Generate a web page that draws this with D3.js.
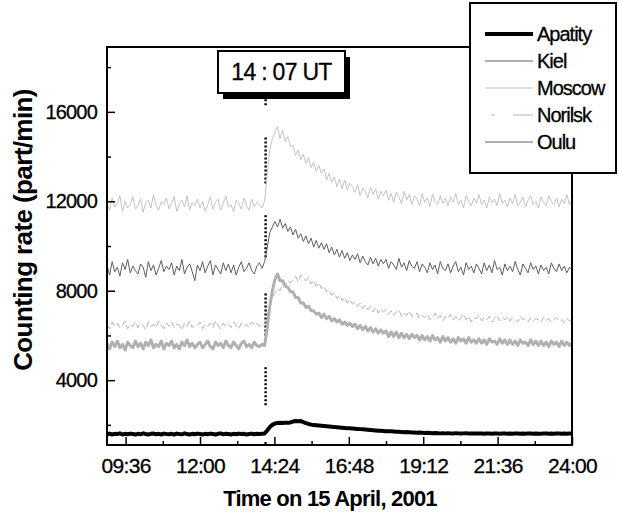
<!DOCTYPE html>
<html>
<head>
<meta charset="utf-8">
<script src="https://cdn.jsdelivr.net/npm/d3@7/dist/d3.min.js"></script>
<style>
  body { margin: 0; background: #fff; }
  svg { display: block; font-family: "Liberation Sans", Arial, sans-serif; }
</style>
</head>
<body>
<div id="chart"></div>
<script>
// neutron monitor counts, one value every 5 min from 09:00 to 24:00 (one row per hour)
const startHour = 9;
const stepMinutes = 5;

const apatity = [
  1580, 1610, 1570, 1600, 1590, 1620, 1570, 1600, 1580, 1610, 1590, 1570,
  1600, 1580, 1620, 1590, 1570, 1600, 1610, 1580, 1600, 1570, 1610, 1590,
  1580, 1600, 1570, 1610, 1590, 1580, 1620, 1590, 1570, 1600, 1580, 1610,
  1590, 1570, 1600, 1580, 1610, 1590, 1570, 1600, 1620, 1580, 1600, 1590,
  1570, 1600, 1580, 1610, 1590, 1600, 1570, 1590, 1610, 1580, 1600, 1590,
  1600, 1610, 1750, 1900, 2000, 2060, 2080, 2090, 2080, 2100, 2090, 2110,
  2150, 2170, 2160, 2170, 2120, 2080, 2040, 2010, 1990, 1980, 1970, 1960,
  1950, 1940, 1930, 1920, 1900, 1890, 1880, 1870, 1860, 1850, 1850, 1840,
  1830, 1820, 1810, 1800, 1790, 1780, 1770, 1760, 1750, 1740, 1740, 1730,
  1720, 1710, 1710, 1700, 1690, 1690, 1680, 1670, 1680, 1670, 1660, 1660,
  1650, 1660, 1650, 1640, 1650, 1640, 1630, 1640, 1630, 1620, 1630, 1620,
  1630, 1620, 1610, 1630, 1620, 1610, 1620, 1630, 1610, 1620, 1610, 1620,
  1610, 1620, 1600, 1620, 1610, 1600, 1620, 1610, 1600, 1610, 1620, 1600,
  1610, 1600, 1620, 1610, 1600, 1610, 1600, 1620, 1610, 1600, 1610, 1600,
  1600, 1610, 1620, 1600, 1610, 1600, 1620, 1610, 1600, 1610, 1600, 1610,
  1610
];

const kiel = [
  9150, 8700, 9300, 8850, 9050, 8650, 9250, 8950, 9400, 8800, 9100, 8900,
  8750, 9200, 9050, 8600, 9300, 8900, 9150, 8700, 9000, 9350, 8850, 9100,
  8950, 9250, 8700, 9100, 8900, 9400, 8750, 9050, 9200, 8850, 8450, 9150,
  8900, 9300, 8800, 9100, 9350, 8700, 9150, 8950, 8750, 9250, 8900, 9200,
  8800, 9150, 8700, 9050, 9300, 8850, 9000, 9250, 8900, 8750, 9100, 9250,
  9000, 9300, 9900, 10600, 10850, 11100, 10850, 11200, 10800, 11000, 10650, 10850,
  10500, 10750, 10350, 10550, 10200, 10450, 10100, 10350, 9950, 10250, 9900, 10150,
  9850, 10100, 9700, 9950, 9600, 9850, 9500, 9800, 9450, 9700, 9350, 9600,
  9400, 9650, 9250, 9550, 9300, 9150, 9500, 9200, 9450, 9100, 9400, 9200,
  9400, 9000, 9300, 9150, 8950, 9450, 9050, 9250, 8900, 9350, 9100, 9000,
  9300, 8850, 9200, 9050, 8800, 9250, 8950, 9150, 8750, 9300, 9000, 8900,
  9200, 8800, 9100, 9300, 8850, 9050, 8700, 9250, 8950, 9100, 8800, 9200,
  9000, 8750, 9250, 8900, 9150, 8800, 9350, 8950, 9050, 8700, 9200, 8900,
  9100, 8850, 9300, 8950, 8700, 9200, 9000, 8800, 9250, 8950, 9100, 8750,
  9150, 8900, 9050, 8750, 9250, 9000, 8850, 9200, 8900, 9100, 8800, 9050,
  8950
];

const moscow = [
  11950, 11600, 12150, 11750, 11900, 12250, 11550, 12000, 11700, 11850, 12200, 11650,
  11800, 12100, 11500, 11950, 12050, 11700, 12300, 11800, 11600, 12000, 11850, 12150,
  11650, 11900, 12200, 11550, 11850, 12050, 11750, 12250, 11600, 11950, 11800, 12100,
  11700, 12000, 11550, 11850, 12200, 11650, 11950, 12100, 11600, 11900, 12250, 11750,
  11850, 11550, 12050, 11900, 11650, 12150, 11800, 11600, 12100, 11750, 11950, 11850,
  11700, 12000, 13200, 14300, 14800, 15100, 15350, 14800, 15200, 14650, 14900, 14450,
  14500, 14050, 14300, 13850, 14100, 13700, 13950, 13500, 13750, 13350, 13600, 13250,
  13450, 12950, 13250, 12850, 13100, 12650, 13000, 12550, 12950, 12500, 12800, 12650,
  12400, 12750, 12250, 12600, 12450, 12150, 12650, 12300, 12550, 12100, 12450, 12250,
  12500, 12050, 12350, 11950, 12400, 12200, 11900, 12450, 12050, 12300, 11850, 12250,
  12100, 11800, 12350, 11950, 12150, 11750, 12300, 12000, 11850, 12250, 11900, 12150,
  11800, 12200, 11950, 12350, 11850, 12050, 11700, 12250, 12000, 11800, 12150, 11900,
  12300, 11850, 12050, 11700, 12200, 11950, 12100, 11800, 12350, 11900, 12050, 11750,
  12150, 11900, 12300, 11800, 11950, 12200, 11750, 12050, 12250, 11850, 12000, 11700,
  12200, 11950, 11800, 12250, 12000, 11850, 12150, 11750, 12100, 11900, 12300, 11850,
  12050
];

const norilsk = [
  6500, 6300, 6600, 6400, 6550, 6350, 6450, 6650, 6300, 6500, 6400, 6600,
  6350, 6550, 6450, 6250, 6600, 6400, 6500, 6350, 6650, 6450, 6300, 6550,
  6400, 6600, 6350, 6500, 6450, 6250, 6550, 6400, 6650, 6350, 6500, 6450,
  6600, 6300, 6500, 6400, 6550, 6350, 6650, 6450, 6300, 6550, 6400, 6500,
  6350, 6600, 6450, 6300, 6550, 6400, 6500, 6350, 6600, 6450, 6550, 6400,
  6450, 6500, 6900, 7300, 7700, 7900, 8100, 8000, 8300, 8200, 8450, 8350,
  8500, 8650, 8400, 8700, 8550, 8450, 8600, 8300, 8450, 8200, 8350, 8100,
  8200, 7950, 8050, 7800, 7900, 7650, 7800, 7550, 7700, 7450, 7600, 7400,
  7500, 7300, 7450, 7200, 7350, 7150, 7300, 7050, 7250, 7000, 7200, 7050,
  7150, 6950, 7100, 6900, 7050, 7150, 6850, 7000, 6900, 7100, 6850, 6950,
  7000, 6750, 6900, 6800, 6950, 6700, 6850, 7000, 6750, 6900, 6650, 6850,
  6750, 6950, 6700, 6850, 6650, 6800, 6950, 6700, 6850, 6600, 6800, 6750,
  6900, 6650, 6800, 6700, 6850, 6600, 6750, 6900, 6650, 6800, 6700, 6850,
  6650, 6800, 6700, 6600, 6850, 6700, 6750, 6600, 6800, 6650, 6750, 6700,
  6600, 6800, 6650, 6750, 6600, 6700, 6800, 6650, 6700, 6550, 6750, 6650,
  6700
];

const oulu = [
  5650, 5400, 5700, 5500, 5750, 5450, 5600, 5350, 5700, 5550, 5450, 5750,
  5500, 5650, 5400, 5700, 5550, 5800, 5450, 5600, 5500, 5750, 5400, 5650,
  5550, 5750, 5450, 5600, 5400, 5700, 5550, 5800, 5500, 5650, 5450, 5600,
  5700, 5450, 5600, 5750, 5500, 5400, 5700, 5550, 5650, 5450, 5750, 5550,
  5450, 5700, 5550, 5400, 5650, 5750, 5500, 5600, 5450, 5700, 5550, 5500,
  5600, 5550, 6300, 7300, 8000, 8500, 8750, 8450, 8450, 8200, 8150, 7950,
  7950, 7700, 7700, 7450, 7450, 7250, 7300, 7100, 7100, 6950, 7000, 6800,
  6950, 6750, 6850, 6650, 6750, 6600, 6700, 6500, 6600, 6450, 6550, 6400,
  6500, 6300, 6450, 6250, 6400, 6200, 6350, 6150, 6300, 6100, 6250, 6100,
  6200, 5950, 6150, 5950, 6150, 5900, 6100, 5900, 6050, 5850, 6050, 5900,
  6000, 5800, 6000, 5800, 5950, 5750, 6000, 5800, 5900, 5700, 5950, 5750,
  5900, 5700, 5850, 5650, 5900, 5750, 5850, 5650, 5900, 5700, 5800, 5650,
  5850, 5650, 5800, 5600, 5850, 5700, 5750, 5600, 5850, 5650, 5800, 5600,
  5800, 5600, 5750, 5550, 5800, 5650, 5700, 5550, 5800, 5600, 5750, 5550,
  5750, 5550, 5700, 5500, 5750, 5600, 5700, 5500, 5750, 5550, 5700, 5550,
  5650
];

const stationNames = ['Apatity', 'Kiel', 'Moscow', 'Norilsk', 'Oulu'];

// axis ticks (hours / counts)
const xMajorTicks = [9.6, 12, 14.4, 16.8, 19.2, 21.6, 24];
const xTickLabels = ['09:36', '12:00', '14:24', '16:48', '19:12', '21:36', '24:00'];
const xMinorTicks = [10.8, 13.2, 15.6, 18, 20.4, 22.8];
const yMajorTicks = [4000, 8000, 12000, 16000];
const yMinorTicks = [2000, 6000, 10000, 14000, 18000];

// onset marker at 14:07 UT, drawn as broken dashed pieces (count ranges)
const onsetHour = 14 + 7 / 60;
const onsetLabel = '14 : 07 UT';
const onsetPieces = [[16300, 17200], [12800, 14870], [9500, 11470], [6000, 7940], [2880, 4670], [1150, 1230]];

const styles = {
  Apatity: { color: '#000', width: 4, dash: null },
  Kiel: { color: '#5e5e5e', width: 1, dash: null },
  Moscow: { color: '#c4c4c4', width: 1, dash: null },
  Norilsk: { color: '#b4b4b4', width: 1, dash: '7,3' },
  Oulu: { color: '#b0b0b0', width: 3, dash: null },
};

const W = 618;
const H = 515;
const margin = { top: 47, right: 46, bottom: 70, left: 107 };

const svg = d3.select('#chart')
  .append('svg')
  .attr('width', W)
  .attr('height', H);

const x = d3.scaleLinear()
  .domain([9, 24])
  .range([margin.left, W - margin.right]);

const y = d3.scaleLinear()
  .domain([1100, 18900])
  .range([H - margin.bottom, margin.top]);

const series = [apatity, kiel, moscow, norilsk, oulu].map((vals, k) => ({
  name: stationNames[k],
  points: vals.map((v, i) => ({ t: startHour + (i * stepMinutes) / 60, v })),
}));

// onset dashed marker (under the traces)
svg.append('g')
  .selectAll('line')
  .data(onsetPieces)
  .join('line')
  .attr('x1', x(onsetHour))
  .attr('x2', x(onsetHour))
  .attr('y1', (d) => y(d[0]))
  .attr('y2', (d) => y(d[1]))
  .attr('stroke', '#000')
  .attr('stroke-width', 2.5)
  .attr('stroke-dasharray', '2,2');

const line = d3.line()
  .x((d) => x(d.t))
  .y((d) => y(d.v));

svg.append('g')
  .selectAll('path')
  .data(series)
  .join('path')
  .attr('d', (d) => line(d.points))
  .attr('fill', 'none')
  .attr('stroke', (d) => styles[d.name].color)
  .attr('stroke-width', (d) => styles[d.name].width)
  .attr('stroke-dasharray', (d) => styles[d.name].dash)
  .attr('stroke-linejoin', 'round');

// axes, ticks pointing inward
const xAxis = svg.append('g')
  .attr('transform', `translate(0,${H - margin.bottom})`)
  .call(d3.axisBottom(x).tickValues(xMajorTicks).tickSize(-8).tickPadding(13)
    .tickFormat((d, i) => xTickLabels[i]));
svg.append('g')
  .attr('transform', `translate(0,${H - margin.bottom})`)
  .call(d3.axisBottom(x).tickValues(xMinorTicks).tickSize(-4).tickFormat(''));

const yAxis = svg.append('g')
  .attr('transform', `translate(${margin.left},0)`)
  .call(d3.axisLeft(y).tickValues(yMajorTicks).tickSize(-8).tickPadding(10)
    .tickFormat(d3.format('d')));
svg.append('g')
  .attr('transform', `translate(${margin.left},0)`)
  .call(d3.axisLeft(y).tickValues(yMinorTicks).tickSize(-4).tickFormat(''));

svg.selectAll('.domain').remove();
svg.selectAll('.tick line').attr('stroke', '#000').attr('stroke-width', 1.5);

xAxis.selectAll('text')
  .attr('font-size', 21)
  .attr('letter-spacing', -0.7)
  .attr('fill', '#000')
  .attr('stroke', '#000')
  .attr('stroke-width', 0.3);
yAxis.selectAll('text')
  .attr('font-size', 20)
  .attr('letter-spacing', -0.8)
  .attr('fill', '#000')
  .attr('stroke', '#000')
  .attr('stroke-width', 0.3);

// frame
svg.append('rect')
  .attr('x', x(9))
  .attr('y', y(18900))
  .attr('width', x(24) - x(9))
  .attr('height', y(1100) - y(18900))
  .attr('fill', 'none')
  .attr('stroke', '#000')
  .attr('stroke-width', 2);

// axis titles
svg.append('text')
  .attr('x', 330)
  .attr('y', 506)
  .attr('text-anchor', 'middle')
  .attr('font-size', 22)
  .attr('font-weight', 'bold')
  .attr('letter-spacing', -0.8)
  .text('Time on 15 April, 2001');

svg.append('text')
  .attr('transform', 'translate(32,230) rotate(-90)')
  .attr('text-anchor', 'middle')
  .attr('font-size', 26)
  .attr('font-weight', 'bold')
  .attr('letter-spacing', -0.6)
  .text('Counting rate (part/min)');

// onset label box with drop shadow
const box = { x: 218, y: 51, w: 127, h: 42 };
svg.append('rect')
  .attr('x', box.x + 5)
  .attr('y', box.y + 6)
  .attr('width', box.w)
  .attr('height', box.h)
  .attr('fill', '#000');
svg.append('rect')
  .attr('x', box.x)
  .attr('y', box.y)
  .attr('width', box.w)
  .attr('height', box.h)
  .attr('fill', '#fff')
  .attr('stroke', '#000')
  .attr('stroke-width', 2);
svg.append('text')
  .attr('x', box.x + box.w / 2)
  .attr('y', box.y + 29)
  .attr('text-anchor', 'middle')
  .attr('font-size', 23)
  .attr('letter-spacing', -0.7)
  .attr('stroke', '#000')
  .attr('stroke-width', 0.3)
  .text(onsetLabel);

// legend
const legend = svg.append('g');
legend.append('rect')
  .attr('x', 470)
  .attr('y', 3)
  .attr('width', 146)
  .attr('height', 170)
  .attr('fill', '#fff')
  .attr('stroke', '#000')
  .attr('stroke-width', 2);

const rows = legend.selectAll('g.row')
  .data(stationNames)
  .join('g')
  .attr('class', 'row')
  .attr('transform', (d, i) => `translate(0,${34 + i * 27})`);

rows.append('line')
  .attr('x1', 485)
  .attr('x2', 533)
  .attr('stroke', (d) => styles[d].color)
  .attr('stroke-width', (d) => (d === 'Oulu' ? 2 : styles[d].width))
  .attr('stroke-dasharray', (d) => (d === 'Norilsk' ? '0,6,4,18,20,100' : null));

rows.append('text')
  .attr('x', 537)
  .attr('dy', '0.35em')
  .attr('font-size', 20)
  .attr('letter-spacing', -1)
  .attr('stroke', '#000')
  .attr('stroke-width', 0.3)
  .text((d) => d);
</script>
</body>
</html>
